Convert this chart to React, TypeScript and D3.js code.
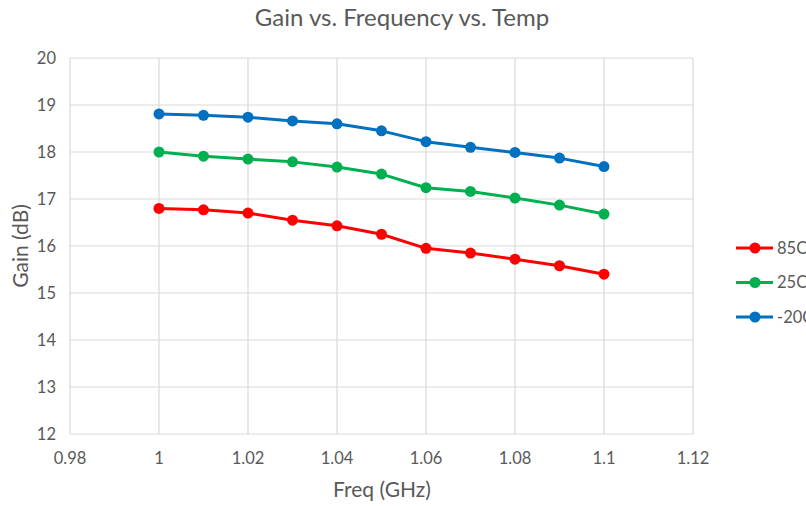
import React, { useEffect, useRef } from 'react';
import * as d3 from 'd3';

const freqs = [1.0, 1.01, 1.02, 1.03, 1.04, 1.05, 1.06, 1.07, 1.08, 1.09, 1.1];
const gain85C = [16.8, 16.77, 16.7, 16.55, 16.43, 16.25, 15.95, 15.85, 15.72, 15.58, 15.4];
const gain25C = [18.0, 17.91, 17.85, 17.79, 17.68, 17.53, 17.24, 17.16, 17.02, 16.87, 16.68];
const gainM20C = [18.81, 18.78, 18.74, 18.66, 18.6, 18.45, 18.22, 18.1, 17.99, 17.87, 17.69];
const xTicks = [0.98, 1, 1.02, 1.04, 1.06, 1.08, 1.1, 1.12];
const yTicks = [12, 13, 14, 15, 16, 17, 18, 19, 20];

const series = [
  { name: '85C', color: '#ff0000', values: gain85C },
  { name: '25C', color: '#00b050', values: gain25C },
  { name: '-20C', color: '#0070c0', values: gainM20C },
];

const W = 806;
const H = 506;
const FONT = 'Lato, "Open Sans", sans-serif';
const TEXT = '#595959';

const App: React.FC = () => {
  const svgRef = useRef<SVGSVGElement>(null);

  useEffect(() => {
    if (!svgRef.current) return;
    const svg = d3.select(svgRef.current);
    svg.selectAll('*').remove();

    const plot = { left: 70, right: 693, top: 58, bottom: 434 };

    const x = d3.scaleLinear().domain([0.98, 1.12]).range([plot.left, plot.right]);
    const y = d3.scaleLinear().domain([12, 20]).range([plot.bottom, plot.top]);

    svg.append('rect').attr('width', W).attr('height', H).attr('fill', '#fff');

    // gridlines
    const grid = svg.append('g').attr('stroke', '#d9d9d9').attr('stroke-width', 1.2);
    yTicks.forEach(t => {
      grid.append('line')
        .attr('x1', plot.left).attr('x2', plot.right)
        .attr('y1', y(t)).attr('y2', y(t));
    });
    xTicks.forEach(t => {
      grid.append('line')
        .attr('x1', x(t)).attr('x2', x(t))
        .attr('y1', plot.top).attr('y2', plot.bottom);
    });

    // tick labels
    svg.append('g').selectAll('text')
      .data(yTicks)
      .enter()
      .append('text')
      .attr('x', plot.left - 14)
      .attr('y', d => y(d))
      .attr('dy', '0.35em')
      .attr('text-anchor', 'end')
      .attr('font-size', 16.5)
      .attr('font-family', FONT)
      .attr('fill', TEXT)
      .text(d => d);

    svg.append('g').selectAll('text')
      .data(xTicks)
      .enter()
      .append('text')
      .attr('x', d => x(d))
      .attr('y', plot.bottom + 30)
      .attr('text-anchor', 'middle')
      .attr('font-size', 16.5)
      .attr('font-family', FONT)
      .attr('fill', TEXT)
      .text(d => d3.format('~g')(d));

    // titles
    svg.append('text')
      .attr('x', 402).attr('y', 26)
      .attr('text-anchor', 'middle')
      .attr('font-size', 24)
      .attr('font-family', FONT)
      .attr('fill', TEXT)
      .text('Gain vs. Frequency vs. Temp');

    svg.append('text')
      .attr('x', 382).attr('y', 497)
      .attr('text-anchor', 'middle')
      .attr('font-size', 21)
      .attr('font-family', FONT)
      .attr('fill', TEXT)
      .text('Freq (GHz)');

    svg.append('text')
      .attr('transform', `translate(28, ${(plot.top + plot.bottom) / 2}) rotate(-90)`)
      .attr('text-anchor', 'middle')
      .attr('font-size', 21)
      .attr('font-family', FONT)
      .attr('fill', TEXT)
      .text('Gain (dB)');

    // series
    const line = d3.line<number>()
      .x((_, i) => x(freqs[i]))
      .y(d => y(d));

    series.forEach(s => {
      svg.append('path')
        .datum(s.values)
        .attr('fill', 'none')
        .attr('stroke', s.color)
        .attr('stroke-width', 3)
        .attr('stroke-linejoin', 'round')
        .attr('d', line);
      svg.append('g').selectAll('circle')
        .data(s.values)
        .enter()
        .append('circle')
        .attr('cx', (_, i) => x(freqs[i]))
        .attr('cy', d => y(d))
        .attr('r', 5.5)
        .attr('fill', s.color);
    });

    // legend (last entry runs off the right edge, as in the source image)
    const legend = svg.append('g').attr('transform', 'translate(736, 248)');
    series.forEach((s, i) => {
      const row = legend.append('g').attr('transform', `translate(0, ${i * 34.5})`);
      row.append('line')
        .attr('x1', 0).attr('x2', 37)
        .attr('stroke', s.color).attr('stroke-width', 3);
      row.append('circle').attr('cx', 19).attr('r', 5.5).attr('fill', s.color);
      row.append('text')
        .attr('x', 41).attr('dy', '0.35em')
        .attr('font-size', 16.5)
        .attr('font-family', FONT)
        .attr('fill', TEXT)
        .text(s.name);
    });
  }, []);

  return (
    <div style={{ position: 'absolute', left: 0, top: 0, width: W, height: H, overflow: 'hidden' }}>
      <svg ref={svgRef} width={W} height={H} style={{ display: 'block' }} />
    </div>
  );
};

export default App;
